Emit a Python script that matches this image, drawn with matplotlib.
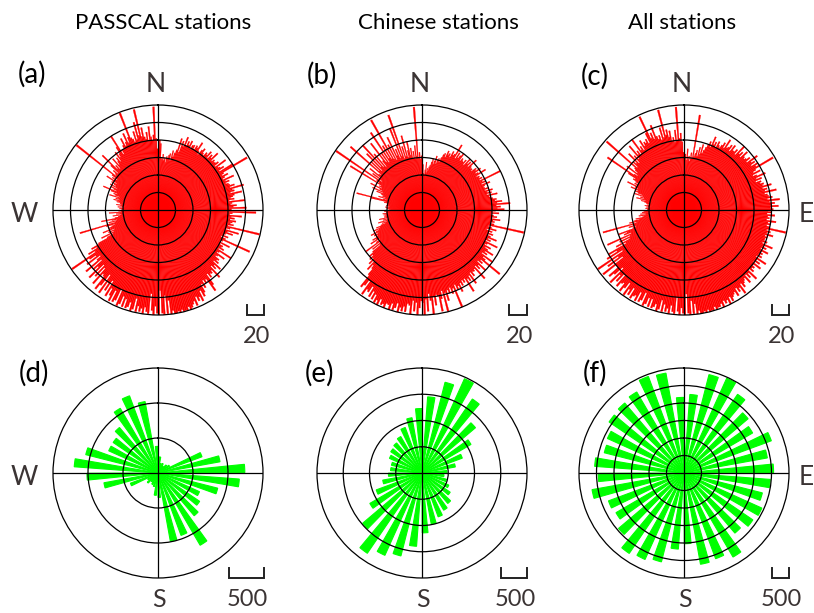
import numpy as np
import matplotlib
matplotlib.use("Agg")
import matplotlib.pyplot as plt
from matplotlib.lines import Line2D

# ---------------- data ----------------
titles = ["PASSCAL stations", "Chinese stations", "All stations"]
panel_labels = ["(a)", "(b)", "(c)", "(d)", "(e)", "(f)"]

# top row: 1-degree bins (0..359)
passcal_delay = [
    62, 80, 76, 60, 58, 64, 57, 60, 55, 62,
    60, 64, 66, 58, 70, 63, 68, 72, 86, 70,
    84, 78, 90, 80, 86, 82, 88, 79, 84, 85,
    80, 86, 84, 92, 82, 78, 85, 88, 83, 81,
    86, 84, 90, 82, 88, 85, 94, 83, 86, 84,
    85, 88, 82, 96, 84, 86, 90, 83, 100, 118,
    86, 83, 90, 85, 82, 95, 84, 88, 83, 86,
    87, 92, 86, 102, 88, 90, 85, 98, 89, 87,
    84, 88, 82, 100, 85, 83, 90, 86, 101, 84,
    83, 112, 85, 82, 96, 84, 88, 83, 90, 86,
    84, 88, 82, 119, 85, 80, 96, 83, 90, 82,
    80, 86, 78, 84, 115, 82, 79, 92, 80, 85,
    84, 88, 82, 100, 85, 83, 94, 86, 84, 90,
    88, 92, 86, 98, 90, 94, 88, 104, 92, 95,
    94, 98, 92, 106, 113, 96, 100, 95, 104, 98,
    108, 112, 104, 116, 110, 114, 108, 118, 112, 115,
    118, 120, 116, 120, 119, 121, 117, 120, 118, 120,
    120, 116, 121, 104, 119, 98, 120, 118, 92, 120,
    118, 110, 120, 115, 96, 119, 117, 112, 120, 114,
    118, 112, 119, 104, 117, 120, 110, 116, 118, 108,
    118, 106, 116, 119, 100, 114, 117, 104, 118, 112,
    104, 115, 96, 110, 100, 116, 92, 108, 115, 98,
    96, 112, 90, 104, 88, 110, 94, 100, 86, 108,
    90, 84, 102, 88, 96, 119, 86, 94, 82, 88,
    78, 66, 58, 72, 56, 62, 54, 68, 58, 60,
    56, 52, 62, 93, 50, 58, 48, 54, 66, 50,
    46, 44, 52, 42, 48, 43, 56, 42, 45, 44,
    40, 42, 44, 40, 46, 41, 43, 48, 42, 44,
    44, 48, 46, 52, 45, 50, 47, 58, 46, 52,
    54, 50, 58, 68, 52, 56, 60, 53, 62, 55,
    58, 62, 56, 70, 60, 64, 58, 66, 119, 62,
    64, 68, 62, 74, 89, 66, 70, 64, 78, 68,
    72, 76, 70, 82, 74, 78, 86, 100, 75, 80,
    80, 84, 92, 82, 86, 96, 84, 90, 119, 88,
    86, 82, 94, 84, 104, 88, 118, 86, 96, 85,
    82, 90, 80, 96, 84, 80, 86, 118, 82, 70,
]

chinese_delay = [
    44, 52, 42, 40, 46, 55, 43, 48, 45, 50,
    52, 56, 60, 54, 58, 64, 55, 60, 62, 58,
    64, 68, 70, 66, 74, 70, 72, 68, 76, 72,
    74, 87, 70, 78, 72, 76, 80, 71, 75, 73,
    72, 76, 70, 80, 74, 78, 72, 84, 75, 73,
    74, 72, 78, 76, 82, 74, 77, 86, 73, 76,
    75, 78, 74, 100, 76, 80, 74, 84, 77, 75,
    76, 80, 75, 84, 77, 82, 76, 88, 78, 80,
    82, 86, 84, 92, 86, 101, 85, 90, 86, 94,
    84, 80, 88, 79, 82, 86, 80, 90, 82, 84,
    80, 84, 119, 78, 82, 88, 77, 84, 80, 86,
    80, 84, 92, 82, 86, 80, 96, 84, 82, 90,
    84, 88, 96, 86, 90, 84, 100, 88, 92, 115,
    88, 92, 86, 100, 90, 94, 88, 106, 90, 92,
    91, 96, 90, 104, 92, 98, 94, 110, 92, 96,
    92, 98, 94, 104, 96, 100, 93, 120, 96, 102,
    94, 100, 96, 108, 98, 120, 95, 104, 118, 100,
    98, 110, 100, 120, 104, 96, 116, 102, 120, 106,
    104, 112, 120, 106, 116, 104, 120, 110, 108, 118,
    112, 118, 114, 120, 110, 116, 119, 112, 120, 115,
    114, 120, 116, 118, 112, 120, 115, 119, 110, 117,
    108, 116, 104, 112, 110, 118, 100, 108, 112, 96,
    88, 84, 92, 80, 86, 78, 82, 76, 80, 74,
    62, 72, 60, 80, 64, 58, 70, 62, 66, 60,
    58, 62, 56, 65, 58, 54, 60, 52, 56, 50,
    44, 48, 42, 52, 41, 46, 40, 50, 42, 44,
    40, 42, 44, 40, 45, 41, 40, 43, 39, 42,
    38, 36, 40, 38, 42, 37, 39, 41, 38, 40,
    40, 44, 42, 60, 77, 46, 42, 52, 44, 48,
    47, 50, 56, 48, 62, 50, 54, 66, 52, 56,
    54, 96, 58, 62, 119, 56, 70, 60, 76, 64,
    62, 109, 66, 80, 64, 90, 68, 100, 66, 84,
    64, 72, 96, 68, 80, 66, 106, 70, 86, 68,
    118, 66, 84, 64, 92, 68, 76, 64, 100, 66,
    115, 62, 76, 64, 88, 62, 70, 80, 64, 72,
    60, 68, 59, 74, 62, 118, 60, 66, 58, 62,
]

all_delay = [
    60, 64, 57, 70, 58, 62, 56, 66, 60, 110,
    62, 66, 70, 63, 74, 66, 78, 68, 72, 76,
    80, 84, 78, 91, 82, 86, 80, 88, 84, 82,
    86, 90, 84, 96, 86, 88, 92, 85, 94, 88,
    88, 92, 86, 100, 90, 94, 88, 98, 92, 90,
    92, 96, 90, 104, 94, 98, 92, 100, 96, 118,
    94, 90, 98, 88, 92, 102, 90, 96, 88, 94,
    92, 96, 94, 104, 93, 98, 95, 108, 94, 97,
    98, 102, 96, 110, 98, 104, 100, 108, 99, 102,
    96, 100, 95, 104, 96, 98, 95, 106, 97, 100,
    96, 100, 119, 97, 102, 98, 106, 97, 100, 98,
    98, 102, 97, 110, 99, 104, 98, 108, 100, 103,
    99, 104, 98, 112, 100, 106, 99, 110, 101, 104,
    102, 106, 100, 114, 103, 108, 102, 112, 104, 106,
    108, 112, 106, 118, 109, 113, 107, 116, 110, 112,
    114, 118, 112, 120, 114, 117, 113, 120, 115, 118,
    118, 120, 116, 120, 119, 121, 117, 120, 118, 120,
    120, 116, 121, 108, 119, 104, 120, 118, 96, 120,
    118, 112, 120, 116, 100, 119, 117, 110, 120, 114,
    118, 110, 119, 106, 117, 120, 112, 116, 118, 108,
    118, 108, 116, 119, 104, 114, 117, 106, 118, 112,
    114, 118, 106, 116, 110, 119, 104, 112, 118, 108,
    110, 116, 100, 112, 104, 118, 96, 108, 114, 100,
    100, 118, 88, 108, 92, 119, 84, 104, 90, 100,
    76, 88, 70, 82, 68, 96, 66, 74, 70, 80,
    62, 58, 66, 60, 96, 56, 64, 58, 52, 56,
    48, 46, 52, 44, 50, 43, 48, 46, 44, 42,
    42, 41, 44, 40, 43, 41, 45, 42, 40, 43,
    44, 46, 50, 45, 56, 47, 52, 48, 60, 50,
    56, 60, 57, 66, 58, 62, 72, 59, 64, 60,
    64, 68, 66, 76, 106, 70, 66, 82, 68, 72,
    74, 118, 72, 80, 76, 90, 74, 84, 78, 96,
    82, 86, 80, 100, 84, 88, 82, 94, 86, 90,
    88, 92, 86, 98, 118, 90, 96, 88, 104, 90,
    86, 90, 84, 98, 86, 118, 88, 94, 85, 92,
    80, 84, 78, 92, 80, 118, 82, 88, 78, 66,
]

# bottom row: 10-degree bins (centres 7, 17, ..., 357)
passcal_count = [230, 140, 150, 120, 160, 190, 670, 900, 1240, 1165,
                 880, 650, 720, 800, 1195, 950, 990, 350, 320, 200,
                 180, 150, 200, 170, 420, 785, 1015, 1200, 1065, 772,
                 775, 852, 1070, 1175, 1037, 380]
chinese_count = [1455, 1783, 1970, 1705, 1335, 1080, 818, 645, 475, 420,
                 480, 560, 650, 760, 820, 890, 990, 1140, 1400, 1630,
                 1720, 1850, 1480, 1150, 930, 760, 640, 600, 600, 680,
                 720, 750, 804, 924, 1070, 1228]
all_count = [2250, 2900, 2970, 2720, 2400, 2270, 2660, 2420, 2560, 2470,
             2310, 2440, 2380, 2250, 2780, 2610, 2650, 2020, 2180, 2620,
             2710, 2780, 2450, 2250, 2300, 2670, 2450, 2560, 2350, 2400,
             2590, 2620, 2680, 2940, 2900, 2160]

top_bins = np.arange(360) + 0.5
bottom_bins = np.arange(36) * 10 + 7

top_rmax, top_ring, top_scale = 120, 20, 20
bottom_rmax = [1500, 2000, 3000]
bottom_ring, bottom_scale = 500, 500

# ---------------- figure ----------------
W, H = 814, 613
fig = plt.figure(figsize=(W / 100, H / 100), dpi=100)
FONT = ["Lato", "DejaVu Sans"]
TXT = "#3b3434"


def fx(x):
    return x / W


def fy(y):
    return 1 - y / H


R = 105
cxs = [158, 422, 684]
cys = [210, 473]


def make_ax(cx, cy, rmax, ring):
    ax = fig.add_axes([fx(cx - R), fy(cy + R), 2 * R / W, 2 * R / H],
                      projection="polar")
    ax.set_theta_zero_location("N")
    ax.set_theta_direction(-1)
    ax.set_ylim(0, rmax)
    ax.set_yticks(np.arange(ring, rmax, ring))
    ax.set_yticklabels([])
    ax.set_xticks(np.radians([0, 90, 180, 270]))
    ax.set_xticklabels([])
    ax.tick_params(length=0)
    ax.grid(True, color="black", linewidth=0.9)
    ax.set_axisbelow(False)
    ax.spines["polar"].set_color("black")
    ax.spines["polar"].set_linewidth(0.9)
    return ax


top_data = [passcal_delay, chinese_delay, all_delay]
bot_data = [passcal_count, chinese_count, all_count]

for i in range(3):
    ax = make_ax(cxs[i], cys[0], top_rmax, top_ring)
    ax.bar(np.radians(top_bins), top_data[i], width=np.radians(1.0),
           color="#ff0000", edgecolor="#ff0000", linewidth=0.2, zorder=1)
    ax2 = make_ax(cxs[i], cys[1], bottom_rmax[i], bottom_ring)
    ax2.bar(np.radians(bottom_bins), bot_data[i], width=np.radians(5.5),
            color="#00ff00", edgecolor="#00ff00", linewidth=0.8, zorder=1)

# titles
title_x = [163, 438, 682]
for t, x in zip(titles, title_x):
    fig.text(fx(x), fy(29), t, ha="center", va="baseline", fontsize=16,
             color="black", family=FONT)

# panel labels
lab_pos = [(32, 74), (322, 75), (595, 76), (34, 373), (320, 373), (595, 373)]
for s, (x, y) in zip(panel_labels, lab_pos):
    fig.text(fx(x), fy(y), s, ha="center", va="center", fontsize=20,
             color="black", family=FONT)

# compass letters
for i in range(3):
    fig.text(fx(cxs[i] - 2), fy(92), "N", ha="center", va="baseline",
             fontsize=19, color=TXT, family=FONT)
    fig.text(fx(cxs[i] + 1), fy(607), "S", ha="center", va="baseline",
             fontsize=18, color=TXT, family=FONT)
for cy in cys:
    fig.text(fx(cxs[0] - 134), fy(cy + 12), "W", ha="center", va="baseline",
             fontsize=19, color=TXT, family=FONT)
    fig.text(fx(cxs[2] + 122), fy(cy + 12), "E", ha="center", va="baseline",
             fontsize=19, color=TXT, family=FONT)

# scale bars
right_edges = [264, 527, 789]
for i in range(3):
    for row in range(2):
        if row == 0:
            length = top_scale / top_rmax * R
            ytop, ybot, ytxt, label = 305, 315, 343, str(top_scale)
        else:
            length = bottom_scale / bottom_rmax[i] * R
            ytop, ybot, ytxt, label = 568, 578, 606, str(bottom_scale)
        x1 = right_edges[i]
        x0 = x1 - length
        fig.add_artist(Line2D([fx(x0), fx(x0), fx(x1), fx(x1)],
                              [fy(ytop), fy(ybot), fy(ybot), fy(ytop)],
                              transform=fig.transFigure, color="#222222",
                              linewidth=1.4, solid_joinstyle="miter"))
        fig.text(fx((x0 + x1) / 2 + 1), fy(ytxt), label, ha="center",
                 va="baseline", fontsize=17, color=TXT, family=FONT)

fig.savefig("out.png", dpi=100, facecolor="white")
